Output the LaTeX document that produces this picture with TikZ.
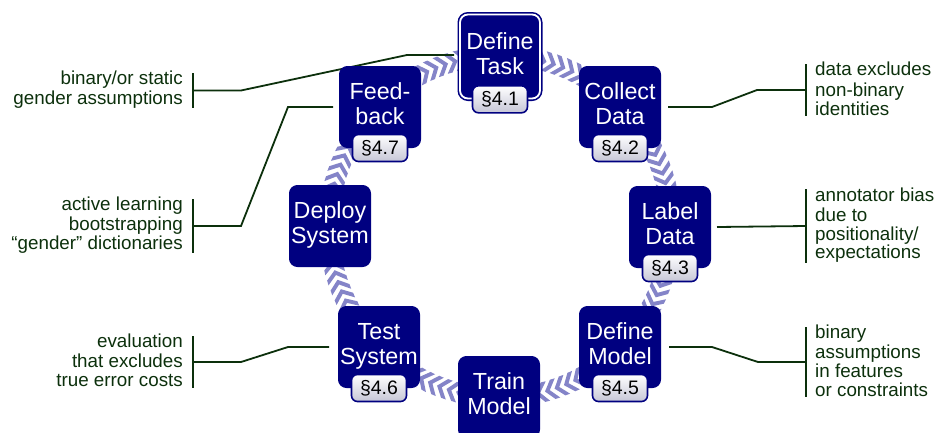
\documentclass[tikz,border=0pt]{standalone}
\usepackage{fontspec}
\setmainfont{Liberation Sans}
\usetikzlibrary{decorations.markings,calc}

\definecolor{stageblue}{RGB}{0,0,128}
\definecolor{chevblue}{RGB}{132,132,200}
\definecolor{notegreen}{RGB}{12,48,12}
\definecolor{badgegrey}{RGB}{198,198,214}

\pgfdeclarelayer{background}
\pgfsetlayers{background,main}

\begin{document}
\begin{tikzpicture}[x=1pt, y=-1pt,
  stage/.style={fill=stageblue, draw=stageblue, line width=1pt, rounded corners=8pt,
    minimum width=81pt, minimum height=81pt, inner sep=0pt, text=white, align=center,
    font=\fontsize{23.3}{25}\selectfont},
  framed/.style={double=white, double distance=1.8pt, line width=1.6pt,
    minimum width=80pt, minimum height=84pt},
  badge/.style={draw=stageblue, line width=1.6pt, rounded corners=6pt,
    top color=white, bottom color=badgegrey, minimum width=55pt, minimum height=27pt,
    inner sep=0pt, text=black, font=\fontsize{19.5}{20}\selectfont},
  note/.style={inner sep=0pt, text=notegreen, font=\fontsize{18.8}{18.8}\selectfont},
  lead/.style={draw=notegreen, line width=1.8pt},
  bracket/.style={draw=notegreen, line width=2.6pt},
  chevrons/.style={decoration={markings,
    mark=between positions 0 and 1 step 10pt with {
      \fill[chevblue] (-5,-10) -- (3,0) -- (-5,10) -- (-10,10) -- (-2,0) -- (-10,-10) -- cycle;}},
    decorate}]

\useasboundingbox (0,0) rectangle (938,432);

% the eight stages of the cycle
\node[stage, framed] (task)  at (500,56.5) {\strut Define\\Task\strut};
\node[stage] (collect)  at (620,107) {\strut Collect\\Data\strut};
\node[stage] (label)    at (670,227) {\strut Label\\Data\strut};
\node[stage] (defmodel) at (620,347) {\strut Define\\Model\strut};
\node[stage] (train)    at (499,397) {\strut Train\\Model\strut};
\node[stage] (test)     at (379,347) {\strut Test\\System\strut};
\node[stage] (deploy)   at (330,226) {\strut Deploy\\System\strut};
\node[stage] (feed)     at (380,107) {\strut Feed-\\back\strut};

% section badges
\node[badge] (s1) at (task.south)     {§4.1};
\node[badge] (s2) at (collect.south)  {§4.2};
\node[badge] (s3) at (label.south)    {§4.3};
\node[badge] (s5) at (defmodel.south) {§4.5};
\node[badge] (s6) at (test.south)     {§4.6};
\node[badge] (s7) at (feed.south)     {§4.7};

% bracket anchors of the notes
\coordinate (k1) at (193,90.5);
\coordinate (k2) at (193,226);
\coordinate (k3) at (193,362);
\coordinate (k4) at (806,90);
\coordinate (k5) at (806,226);
\coordinate (k6) at (806,362);

% notes on the left
\node[note, anchor=east, align=right] (n1) at ($(k1)+(-10,0)$)
  {\strut binary/or static\\gender assumptions\strut};
\node[note, anchor=east, align=right] (n2) at ($(k2)+(-10,0)$)
  {\strut active learning\\bootstrapping\\“gender” dictionaries\strut};
\node[note, anchor=east, align=right] (n3) at ($(k3)+(-10,1)$)
  {\strut evaluation\\that excludes\\true error costs\strut};
% notes on the right
\node[note, anchor=west, align=left] (n4) at ($(k4)+(9,1.5)$)
  {\strut data excludes\\non-binary\\identities\strut};
\node[note, anchor=west, align=left] (n5) at ($(k5)+(9,0)$)
  {\strut annotator bias\\due to\\positionality/\\expectations\strut};
\node[note, anchor=west, align=left] (n6) at ($(k6)+(9,1.5)$)
  {\strut binary\\assumptions\\in features\\or constraints\strut};

\begin{pgfonlayer}{background}
  % chevron ring running clockwise through the stages
  \path[chevrons] (500,226.5) circle[radius=171];

  % brackets
  \draw[bracket] ($(k1)+(0,-17.5)$) -- ($(k1)+(0,17.5)$);
  \draw[bracket] ($(k2)+(0,-27)$) -- ($(k2)+(0,27)$);
  \draw[bracket] ($(k3)+(0,-26)$) -- ($(k3)+(0,26)$);
  \draw[bracket] ($(k4)+(0,-26)$) -- ($(k4)+(0,26)$);
  \draw[bracket] ($(k5)+(0,-37)$) -- ($(k5)+(0,37)$);
  \draw[bracket] ($(k6)+(0,-35)$) -- ($(k6)+(0,35)$);

  % leader lines from the notes to their stages
  \draw[lead] (k1) -- (241,90.5) -- (407,55) -- ([xshift=-5pt]task.west |- 0,55);
  \draw[lead] (k2) -- (241,226) -- (288,107) -- ([xshift=-6pt]feed.west);
  \draw[lead] (k3) -- (241,362) -- (288,347) -- ([xshift=-9pt]test.west);
  \draw[lead] ([xshift=7pt]collect.east) -- (712,107) -- (757,90) -- (k4);
  \draw[lead] ([xshift=6pt]label.east) -- (k5);
  \draw[lead] ([xshift=8pt]defmodel.east) -- (712,347) -- (758,362) -- (k6);
\end{pgfonlayer}
\end{tikzpicture}
\end{document}
